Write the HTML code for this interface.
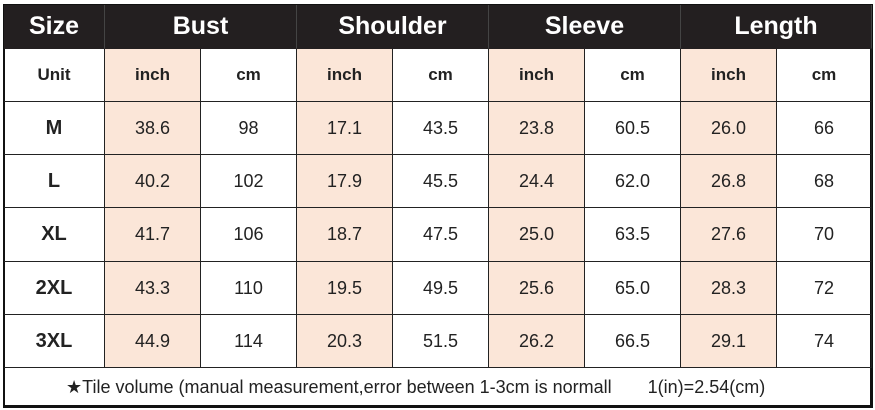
<!DOCTYPE html>
<html><head><meta charset="utf-8"><style>
body{margin:0;width:875px;height:410px;background:#fff;position:relative;overflow:hidden;font-family:"Liberation Sans",sans-serif;}
.c{position:absolute;display:flex;align-items:center;justify-content:center;box-sizing:border-box;border-right:1px solid #222;border-bottom:1px solid #222;color:#222;}
.h{background:#231f20;color:#fff;font-weight:bold;font-size:25px;border-color:#231f20;}
.p{background:#fbe6d8;}
.b{font-weight:bold;font-size:17px;}
.n{font-size:18px;}
.s{font-weight:bold;font-size:20px;}
</style></head><body>
<div style="position:absolute;left:3px;top:4px;width:870px;height:404px;border:2px solid #111;border-bottom-width:3px;border-right-width:3px;box-sizing:border-box;"></div>
<script>
const xs=[4,105,201,297,393,489,585,681,777,872];
const ys=[49,102,155,208,262,315,368];
let h='';
const hd=[['Size',0,1],['Bust',1,3],['Shoulder',3,5],['Sleeve',5,7],['Length',7,9]];
hd.forEach(([t,a,b])=>{h+=`<div class="c h" style="left:${xs[a]}px;top:5px;width:${xs[b]-xs[a]}px;height:44px;border-right:1px solid #444">${t}</div>`;});
const rows=[['Unit','inch','cm','inch','cm','inch','cm','inch','cm'],
['M','38.6','98','17.1','43.5','23.8','60.5','26.0','66'],
['L','40.2','102','17.9','45.5','24.4','62.0','26.8','68'],
['XL','41.7','106','18.7','47.5','25.0','63.5','27.6','70'],
['2XL','43.3','110','19.5','49.5','25.6','65.0','28.3','72'],
['3XL','44.9','114','20.3','51.5','26.2','66.5','29.1','74']];
rows.forEach((r,i)=>{r.forEach((t,j)=>{
let cls='c '+(i==0?'b':(j==0?'s':'n'))+((j%2==1)?' p':'');
h+=`<div class="${cls}" style="left:${xs[j]}px;top:${ys[i]}px;width:${xs[j+1]-xs[j]}px;height:${ys[i+1]-ys[i]}px;">${t}</div>`;});});
h+=`<div style="position:absolute;left:4px;top:368px;width:868px;height:38px;display:flex;align-items:center;font-size:18px;color:#222;"><span style="margin-left:62px">★Tile volume (manual measurement,error between 1-3cm is normall</span><span style="margin-left:36px">1(in)=2.54(cm)</span></div>`;
document.body.insertAdjacentHTML('beforeend',h);
</script>
</body></html>
